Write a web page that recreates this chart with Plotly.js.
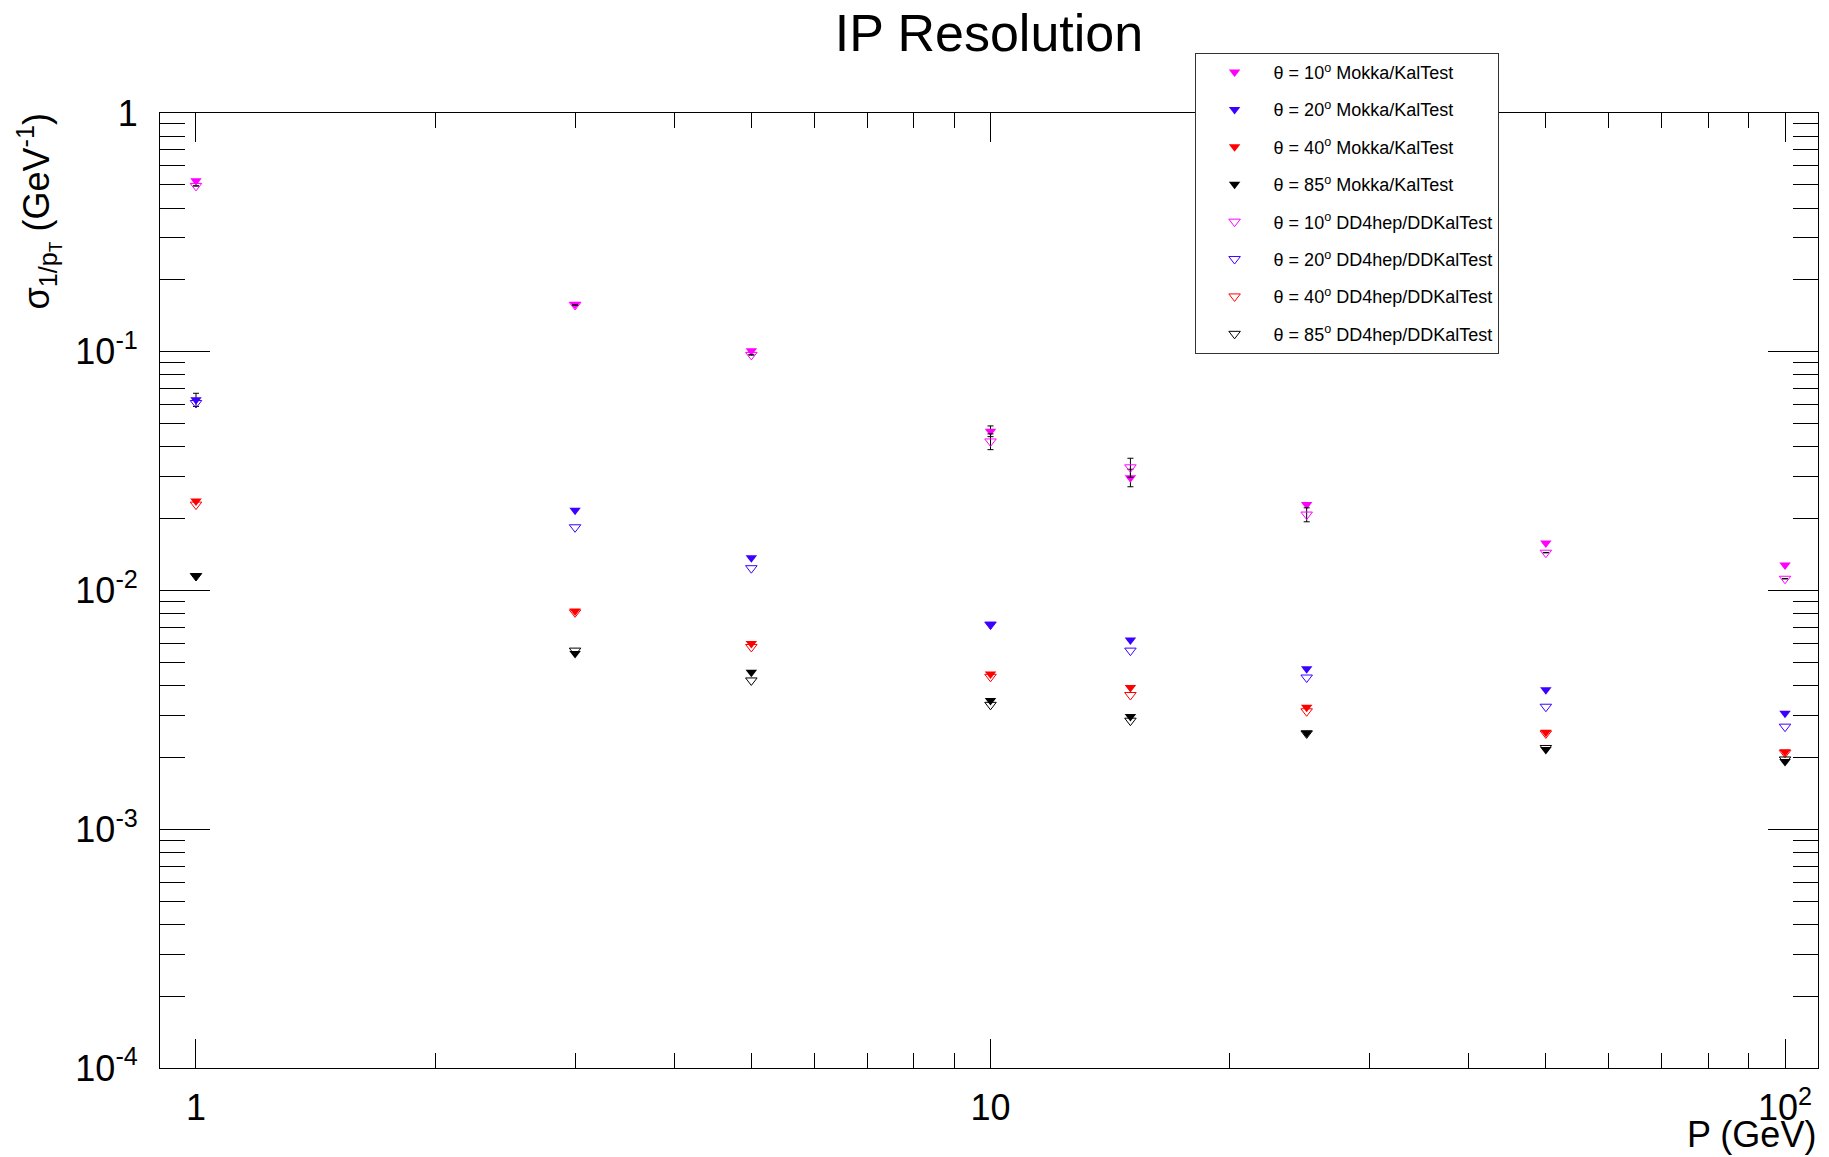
<!DOCTYPE html>
<html><head><meta charset="utf-8">
<script src="https://cdn.plot.ly/plotly-3.0.1.min.js"></script>
<style>html,body{margin:0;padding:0;background:#fff}</style>
</head><body><div id="chart" style="width:1829px;height:1157px"></div>
<script>
// ---- data (momentum in GeV, sigma_{1/pT} in GeV^-1) ----
const momentum = [1, 3, 5, 10, 15, 25, 50, 100];
const mokka10 = [0.52, 0.158, 0.101, 0.0465, 0.0297, 0.0229, 0.0158, 0.0128];
const mokka20 = [0.063, 0.0217, 0.0137, 0.0072, 0.0062, 0.0047, 0.00384, 0.00306];
const mokka40 = [0.0237, 0.0082, 0.0060, 0.00447, 0.00392, 0.00324, 0.00255, 0.00211];
const mokka85 = [0.0115, 0.00545, 0.00455, 0.00346, 0.00297, 0.00253, 0.00216, 0.00192];
const dd10 = [0.495, 0.157, 0.097, 0.0421, 0.0328, 0.0208, 0.0144, 0.0112];
const dd20 = [0.061, 0.0184, 0.0124, 0.0072, 0.0056, 0.00432, 0.00326, 0.00269];
const dd40 = [0.0229, 0.0081, 0.0058, 0.00435, 0.00365, 0.00312, 0.00252, 0.00209];
const dd85 = [0.0115, 0.0056, 0.0042, 0.00332, 0.00285, 0.00252, 0.00219, 0.00196];
// visible error bars (null = hidden behind marker)
const mokka10Err = [null, null, null, 0.0024, 0.0025, null, null, null];
const mokka20Err = [0.004, null, null, null, null, null, null, null];
const dd10Err = [null, null, null, 0.0032, 0.0030, 0.0014, null, null];

const seriesNames = [
  'θ = 10<sup>o</sup> Mokka/KalTest',
  'θ = 20<sup>o</sup> Mokka/KalTest',
  'θ = 40<sup>o</sup> Mokka/KalTest',
  'θ = 85<sup>o</sup> Mokka/KalTest',
  'θ = 10<sup>o</sup> DD4hep/DDKalTest',
  'θ = 20<sup>o</sup> DD4hep/DDKalTest',
  'θ = 40<sup>o</sup> DD4hep/DDKalTest',
  'θ = 85<sup>o</sup> DD4hep/DDKalTest'
];
const xTickVals = [1, 10, 100];
const xTickText = ['1', '10', '10<sup>2</sup>'];
const yTickVals = [1e-4, 1e-3, 1e-2, 1e-1, 1];
const yTickText = ['10<sup>-4</sup>', '10<sup>-3</sup>', '10<sup>-2</sup>', '10<sup>-1</sup>', '1'];

const colors = ['#ff00ff', '#3c00ff', '#ff0000', '#000000'];
const values = [mokka10, mokka20, mokka40, mokka85, dd10, dd20, dd40, dd85];
const errs = [mokka10Err, mokka20Err, null, null, dd10Err, null, null, null];

function minorTicks(lo, hi) {
  const out = [];
  for (let e = lo; e <= hi; e++) for (let m = 2; m <= 9; m++) out.push(m * Math.pow(10, e));
  return out;
}

const traces = values.map((v, i) => {
  const open = i >= 4;
  const c = colors[i % 4];
  const t = {
    type: 'scatter', mode: 'markers', x: momentum, y: v, name: seriesNames[i],
    legendgroup: 'g' + i,
    marker: open
      ? {symbol: 'triangle-down-open', size: 10, color: c, line: {color: c, width: 1}}
      : {symbol: 'triangle-down', size: 10, color: c, line: {width: 0}},
    cliponaxis: false
  };
  if (errs[i]) t.error_y = {type: 'data', array: errs[i], visible: true, color: '#000', thickness: 1, width: 3};
  return t;
});

const FONT = 'Liberation Sans, Arial, Helvetica, sans-serif';
const axisCommon = {
  type: 'log', showline: true, linecolor: '#000', linewidth: 1, mirror: 'ticks',
  ticks: 'inside', tickcolor: '#000', tickwidth: 1, showgrid: false, zeroline: false,
  tickmode: 'array', tickfont: {size: 36, family: FONT, color: '#000'}
};

const layout = {
  width: 1829, height: 1157,
  margin: {l: 160, r: 11, t: 113, b: 89},
  paper_bgcolor: '#fff', plot_bgcolor: '#fff',
  font: {family: FONT, color: '#000'},
  title: {text: 'IP Resolution', font: {size: 52, family: FONT, color: '#000'},
          x: 0.5, xref: 'paper', xanchor: 'center', y: 1 - 33 / 1157, yref: 'container', yanchor: 'middle'},
  xaxis: Object.assign({}, axisCommon, {
    range: [-0.0453, 2.0415], tickvals: xTickVals, ticktext: xTickText, ticklen: 29,
    ticklabelstandoff: 8,
    minor: {tickmode: 'array', tickvals: minorTicks(0, 1), ticks: 'inside', ticklen: 15, tickcolor: '#000', tickwidth: 1, showgrid: false}
  }),
  yaxis: Object.assign({}, axisCommon, {
    range: [-4, 0], tickvals: yTickVals, ticktext: yTickText, ticklen: 50,
    ticklabelstandoff: 14,
    minor: {tickmode: 'array', tickvals: minorTicks(-4, -1), ticks: 'inside', ticklen: 25, tickcolor: '#000', tickwidth: 1, showgrid: false}
  }),
  showlegend: true,
  legend: {x: 0.624, y: 1.063, xanchor: 'left', yanchor: 'top', bgcolor: '#fff',
           bordercolor: '#333', borderwidth: 1, font: {size: 18, family: FONT, color: '#000'},
           itemwidth: 68, tracegroupgap: 11, traceorder: 'grouped'},
  annotations: [
    {text: 'σ<sub>1/p<sub>T</sub></sub> (GeV<sup>-1</sup>)', textangle: -90, showarrow: false,
     xref: 'paper', x: -0.0733, xanchor: 'center', yref: 'paper', y: 1.002, yanchor: 'top',
     font: {size: 36, family: FONT, color: '#000'}},
    {text: 'P (GeV)', showarrow: false, xref: 'paper', x: 1, xanchor: 'right',
     yref: 'paper', y: -0.070, yanchor: 'middle', font: {size: 36, family: FONT, color: '#000'}}
  ]
};

Plotly.newPlot('chart', traces, layout, {displayModeBar: false, staticPlot: true});
</script>
</body></html>
